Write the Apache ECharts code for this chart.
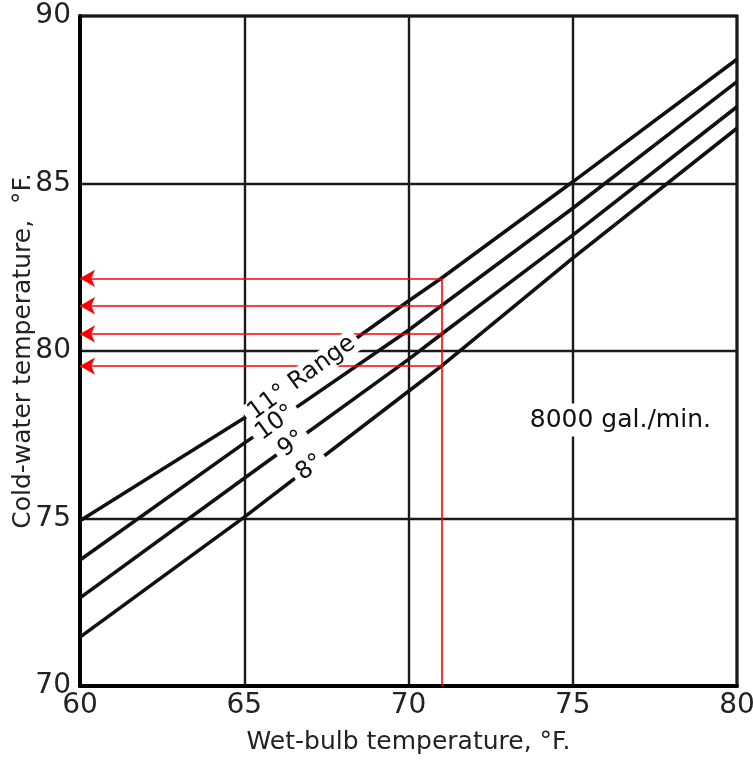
<!DOCTYPE html>
<html>
<head>
<meta charset="utf-8">
<script src="https://cdn.jsdelivr.net/npm/echarts@6/dist/echarts.min.js"></script>
<style>
  html, body { margin: 0; padding: 0; background: #fff; }
  #main { width: 753px; height: 767px; }
</style>
</head>
<body>
<div id="main"></div>
<script>
// wet-bulb temperature (x) where the curves were read
const wetBulb = [60, 65, 70, 71, 75, 80];
// cold-water temperature for each cooling range
const range11 = [74.93, 78.0, 81.49, 82.17, 85.05, 88.71];
const range10 = [73.76, 77.25, 80.62, 81.35, 84.26, 88.04];
const range9 = [72.63, 76.2, 79.75, 80.5, 83.46, 87.29];
const range8 = [71.46, 75.04, 78.8, 79.55, 82.77, 86.65];
const rangeNames = ['11° Range', '10°', '9°', '8°'];

// worked example: wet-bulb 71 °F read across to the axis
const exampleWetBulb = 71;
const exampleReadings = [82.17, 81.35, 80.51, 79.55];

const xTicks = [60, 65, 70, 75, 80];
const yTicks = [70, 75, 80, 85, 90];

const font = 'DejaVu Sans';

const pairs = (ys) => wetBulb.map((x, i) => [x, ys[i]]);

// where the range labels sit on their curves
const labelSpots = [[66.75, 79.2], [65.95, 77.85], [66.45, 77.22], [67.0, 76.52]];

const curve = (name, ys) => ({
    name: name, type: 'line', data: pairs(ys), symbol: 'none', smooth: false,
    lineStyle: { color: '#111', width: 3.6 }, z: 3, silent: true
});

// red guide lines with arrows to the axis
const guideLines = [[{ coord: [exampleWetBulb, yTicks[0]], symbol: 'none' },
                     { coord: [exampleWetBulb, exampleReadings[0]], symbol: 'none' }]];
exampleReadings.forEach((v) => {
    guideLines.push([{ coord: [exampleWetBulb, v], symbol: 'none' },
                     { coord: [xTicks[0], v], symbol: 'arrow', symbolSize: [13, 15] }]);
});

const option = {
    animation: false,
    grid: {
        left: 80, right: 16, top: 16, bottom: 81, outerBoundsMode: 'none', containLabel: false,
        show: true, borderColor: '#000', borderWidth: 3
    },
    xAxis: {
        type: 'value', min: xTicks[0], max: xTicks[xTicks.length - 1], interval: 5,
        name: 'Wet-bulb temperature, °F.', nameLocation: 'middle', nameGap: 44, nameMoveOverlap: false,
        nameTextStyle: { fontFamily: font, fontSize: 25, color: '#222' },
        axisLine: { lineStyle: { color: '#000', width: 4 } },
        axisTick: { show: false },
        axisLabel: { fontFamily: font, fontSize: 28, color: '#222', margin: 6 },
        splitLine: { lineStyle: { color: '#1a1a1a', width: 2.4 } }
    },
    yAxis: {
        type: 'value', min: yTicks[0], max: yTicks[yTicks.length - 1], interval: 5,
        name: 'Cold-water temperature,  °F.', nameLocation: 'middle', nameGap: 44, nameMoveOverlap: false,
        nameTextStyle: { fontFamily: font, fontSize: 25, color: '#222' },
        axisLine: { lineStyle: { color: '#000', width: 4 } },
        axisTick: { show: false },
        axisLabel: { fontFamily: font, fontSize: 28, color: '#222', margin: 9 },
        splitLine: { lineStyle: { color: '#1a1a1a', width: 2.4 } }
    },
    series: [
        curve(rangeNames[0], range11),
        curve(rangeNames[1], range10),
        curve(rangeNames[2], range9),
        curve(rangeNames[3], range8),
        {
            name: 'guide', type: 'line', data: [], silent: true, z: 4,
            markLine: {
                silent: true, animation: false, label: { show: false },
                lineStyle: { color: '#ff0000', width: 1.6, type: 'solid' },
                data: guideLines
            }
        },
        {
            name: 'labels', type: 'scatter', symbolSize: 0, silent: true, z: 10,
            itemStyle: { opacity: 1 },
            data: rangeNames.map((n, i) => ({ name: n, value: labelSpots[i] })).concat(
                [{ name: '8000 gal./min.', value: [76.45, 77.94], label: { rotate: 0, fontSize: 25, padding: [4, 4] } }]),
            label: {
                show: true, position: 'inside', formatter: '{b}', rotate: 36,
                fontFamily: font, fontSize: 24, color: '#111', opacity: 1,
                backgroundColor: '#fff', padding: [0, 5]
            }
        }
    ]
};

echarts.init(document.getElementById('main')).setOption(option);
</script>
</body>
</html>
